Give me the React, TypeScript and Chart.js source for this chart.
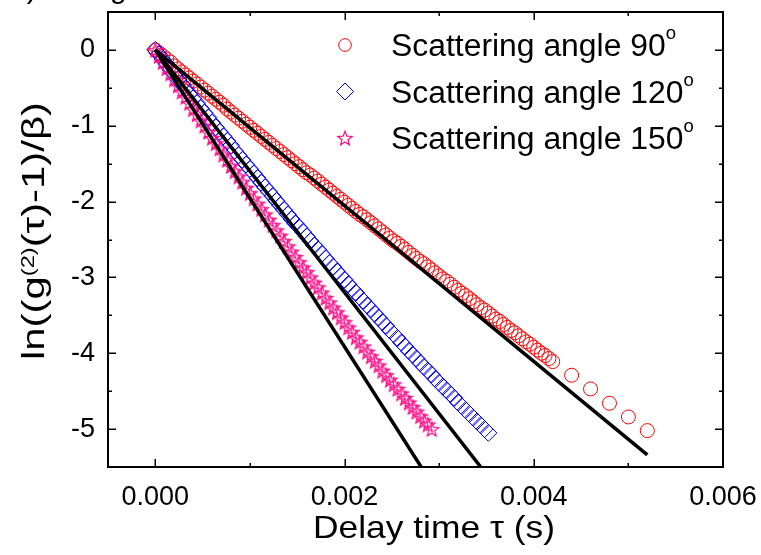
import React, { useEffect, useRef } from 'react';
import { Chart, registerables } from 'chart.js';

Chart.register(...registerables);

// Delay times (s) shared by the three correlation curves
const TAU = [
  0, 0.00004, 0.00008, 0.00012, 0.00016, 0.0002, 0.00024, 0.00028, 0.00032, 0.00036,
  0.0004, 0.00044, 0.00048, 0.00052, 0.00056, 0.0006, 0.00064, 0.00068, 0.00072, 0.00076,
  0.0008, 0.00084, 0.00088, 0.00092, 0.00096, 0.001, 0.00104, 0.00108, 0.00112, 0.00116,
  0.0012, 0.00124, 0.00128, 0.00132, 0.00136, 0.0014, 0.00144, 0.00148, 0.00152, 0.00156,
  0.0016, 0.00164, 0.00168, 0.00172, 0.00176, 0.0018, 0.00184, 0.00188, 0.00192, 0.00196,
  0.002, 0.00204, 0.00208, 0.00212, 0.00216, 0.0022, 0.00224, 0.00228, 0.00232, 0.00236,
  0.0024, 0.00244, 0.00248, 0.00252, 0.00256, 0.0026, 0.00264, 0.00268, 0.00272, 0.00276,
  0.0028, 0.00284, 0.00288, 0.00292, 0.00296, 0.003, 0.00304, 0.00308, 0.00312, 0.00316,
  0.0032, 0.00324, 0.00328, 0.00332, 0.00336, 0.0034, 0.00344, 0.00348, 0.00352, 0.00356,
  0.0036, 0.00364, 0.00368, 0.00372, 0.00376, 0.0038, 0.00384, 0.00388, 0.00392, 0.00396,
  0.004, 0.00404, 0.00408, 0.00412, 0.00416, 0.0042,
];

const LN_90 = [
  0, -0.04, -0.08, -0.12, -0.16, -0.21, -0.25, -0.29, -0.33, -0.37,
  -0.41, -0.45, -0.49, -0.53, -0.57, -0.61, -0.65, -0.69, -0.73, -0.78,
  -0.82, -0.86, -0.9, -0.94, -0.98, -1.02, -1.06, -1.1, -1.14, -1.18,
  -1.22, -1.26, -1.3, -1.34, -1.38, -1.42, -1.46, -1.5, -1.54, -1.58,
  -1.62, -1.65, -1.69, -1.73, -1.77, -1.81, -1.85, -1.89, -1.93, -1.97,
  -2.01, -2.05, -2.09, -2.13, -2.17, -2.2, -2.24, -2.28, -2.32, -2.36,
  -2.4, -2.44, -2.48, -2.52, -2.55, -2.59, -2.63, -2.67, -2.71, -2.75,
  -2.79, -2.82, -2.86, -2.9, -2.94, -2.98, -3.02, -3.05, -3.09, -3.13,
  -3.17, -3.21, -3.24, -3.28, -3.32, -3.36, -3.4, -3.43, -3.47, -3.51,
  -3.55, -3.58, -3.62, -3.66, -3.7, -3.73, -3.77, -3.81, -3.85, -3.88,
  -3.92, -3.96, -4.0, -4.03, -4.07, -4.11,
];
const TAU_90_TAIL = [0.0044, 0.0046, 0.0048, 0.005, 0.0052];
const LN_90_TAIL = [-4.29, -4.47, -4.66, -4.84, -5.02];

const LN_120 = [
  0, -0.06, -0.13, -0.19, -0.26, -0.32, -0.39, -0.45, -0.51, -0.58,
  -0.64, -0.7, -0.77, -0.83, -0.89, -0.96, -1.02, -1.08, -1.14, -1.2,
  -1.26, -1.33, -1.39, -1.45, -1.51, -1.57, -1.63, -1.69, -1.75, -1.81,
  -1.87, -1.93, -1.99, -2.05, -2.11, -2.17, -2.23, -2.29, -2.34, -2.4,
  -2.46, -2.52, -2.58, -2.63, -2.69, -2.75, -2.81, -2.86, -2.92, -2.98,
  -3.03, -3.09, -3.15, -3.2, -3.26, -3.31, -3.37, -3.42, -3.48, -3.53,
  -3.59, -3.64, -3.7, -3.75, -3.8, -3.86, -3.91, -3.97, -4.02, -4.07,
  -4.13, -4.18, -4.23, -4.28, -4.34, -4.39, -4.44, -4.49, -4.54, -4.59,
  -4.65, -4.7, -4.75, -4.8, -4.85, -4.9, -4.95, -5.0, -5.05,
];

const LN_150 = [
  0, -0.08, -0.16, -0.24, -0.31, -0.39, -0.47, -0.55, -0.62, -0.7,
  -0.78, -0.85, -0.93, -1.0, -1.08, -1.16, -1.23, -1.3, -1.38, -1.45,
  -1.53, -1.6, -1.67, -1.74, -1.82, -1.89, -1.96, -2.03, -2.1, -2.17,
  -2.24, -2.31, -2.38, -2.45, -2.52, -2.59, -2.66, -2.73, -2.8, -2.87,
  -2.93, -3.0, -3.07, -3.13, -3.2, -3.27, -3.33, -3.4, -3.46, -3.53,
  -3.59, -3.66, -3.72, -3.79, -3.85, -3.91, -3.98, -4.04, -4.1, -4.16,
  -4.23, -4.29, -4.35, -4.41, -4.47, -4.53, -4.59, -4.65, -4.71, -4.77,
  -4.83, -4.89, -4.94, -5.0,
];

// Linear fits: start and end points (90°, 120°, 150°)
const FIT_START_TAU = [0, 0, 0];
const FIT_START_LN = [0, 0, 0];
const FIT_END_TAU = [0.0052, 0.00344, 0.00281];
const FIT_END_LN = [-5.34, -5.5, -5.5];

const X_MIN = -0.0005;
const X_MAX = 0.006;
const Y_MIN = -5.5;
const Y_MAX = 0.5;
const X_MAJOR = [0, 0.002, 0.004, 0.006];
const X_MINOR = [0.001, 0.003, 0.005];
const Y_MAJOR = [0, -1, -2, -3, -4, -5];
const Y_MINOR = [-0.5, -1.5, -2.5, -3.5, -4.5];

const LEGEND_LABELS = ['Scattering angle 90', 'Scattering angle 120', 'Scattering angle 150'];
const LEGEND_SUP = 'o';
const X_TITLE = 'Delay time \u03C4 (s)';
const Y_TITLE_PARTS = ['ln((g', '(2)', '(\u03C4)-1)/\u03B2)'];
const CAPTION = 'b) Fitting';

const RED = '#FF0000';
const BLUE = '#0000FF';
const PINK = '#FF0A84';
const FONT = '"Liberation Sans", Arial, Helvetica, sans-serif';

type Seg = { t: string; size: number; dy: number };

function segsWidth(ctx: CanvasRenderingContext2D, segs: Seg[]) {
  let w = 0;
  for (const s of segs) {
    ctx.font = `${s.size}px ${FONT}`;
    w += ctx.measureText(s.t).width;
  }
  return w;
}

function drawSegs(ctx: CanvasRenderingContext2D, segs: Seg[], x: number, y: number, align: 'left' | 'center', sx: number) {
  const w = segsWidth(ctx, segs) * sx;
  const start = align === 'center' ? x - w / 2 : x;
  ctx.save();
  ctx.translate(start, y);
  ctx.scale(sx, 1);
  ctx.textAlign = 'left';
  ctx.textBaseline = 'alphabetic';
  ctx.fillStyle = '#000';
  let cx = 0;
  for (const s of segs) {
    ctx.font = `${s.size}px ${FONT}`;
    ctx.fillText(s.t, cx, s.dy);
    cx += ctx.measureText(s.t).width;
  }
  ctx.restore();
}

function makeStar(color: string, R: number, lw: number) {
  const size = Math.ceil(2 * R + 2 * lw + 2);
  const c = document.createElement('canvas');
  c.width = size;
  c.height = size;
  const g = c.getContext('2d') as CanvasRenderingContext2D;
  const cx = size / 2;
  const cy = size / 2 + R * 0.1;
  g.beginPath();
  for (let i = 0; i < 10; i++) {
    const r = i % 2 === 0 ? R : R * 0.42;
    const ang = -Math.PI / 2 + (i * Math.PI) / 5;
    const px = cx + r * Math.cos(ang);
    const py = cy + r * Math.sin(ang);
    if (i === 0) g.moveTo(px, py);
    else g.lineTo(px, py);
  }
  g.closePath();
  g.strokeStyle = color;
  g.lineWidth = lw;
  g.stroke();
  return c;
}

const zeroPad = (s: any) => {
  s.paddingLeft = 0;
  s.paddingRight = 0;
  s.paddingTop = 0;
  s.paddingBottom = 0;
};

export default function App() {
  const ref = useRef<HTMLCanvasElement | null>(null);

  useEffect(() => {
    if (!ref.current) return;
    const star = makeStar(PINK, 7.5, 1.2);

    const pts = (xs: number[], ys: number[]) => ys.map((y, i) => ({ x: xs[i], y }));
    const fit = (i: number) => [
      { x: FIT_START_TAU[i], y: FIT_START_LN[i] },
      { x: FIT_END_TAU[i], y: FIT_END_LN[i] },
    ];

    const overlay = {
      id: 'overlay',
      afterDraw(chart: any) {
        const ctx: CanvasRenderingContext2D = chart.ctx;
        const a = chart.chartArea;
        const xs = chart.scales.x;
        const ys = chart.scales.y;
        ctx.save();
        // frame
        ctx.strokeStyle = '#000';
        ctx.lineWidth = 2;
        ctx.strokeRect(a.left, a.top, a.right - a.left, a.bottom - a.top);
        // ticks (inward, all four sides)
        ctx.lineWidth = 1.5;
        ctx.beginPath();
        const xt = (vals: number[], len: number) => {
          for (const v of vals) {
            const p = Math.round(xs.getPixelForValue(v)) + 0.25;
            ctx.moveTo(p, a.bottom);
            ctx.lineTo(p, a.bottom - len);
            ctx.moveTo(p, a.top);
            ctx.lineTo(p, a.top + len);
          }
        };
        const yt = (vals: number[], len: number) => {
          for (const v of vals) {
            const p = Math.round(ys.getPixelForValue(v)) + 0.25;
            ctx.moveTo(a.left, p);
            ctx.lineTo(a.left + len, p);
            ctx.moveTo(a.right, p);
            ctx.lineTo(a.right - len, p);
          }
        };
        xt(X_MAJOR, 8);
        xt(X_MINOR, 4);
        yt(Y_MAJOR, 8);
        yt(Y_MINOR, 4);
        ctx.stroke();

        // legend
        const rows = [45, 91.5, 138];
        const mx = 345;
        ctx.lineWidth = 1;
        ctx.strokeStyle = RED;
        ctx.beginPath();
        ctx.arc(mx, rows[0], 6.3, 0, Math.PI * 2);
        ctx.stroke();
        ctx.strokeStyle = BLUE;
        ctx.beginPath();
        ctx.moveTo(mx - 8.5, rows[1]);
        ctx.lineTo(mx, rows[1] - 8.5);
        ctx.lineTo(mx + 8.5, rows[1]);
        ctx.lineTo(mx, rows[1] + 8.5);
        ctx.closePath();
        ctx.stroke();
        ctx.drawImage(star, mx - star.width / 2, rows[2] - star.height / 2);

        const legSegs = (t: string): Seg[] => [
          { t, size: 31, dy: 0 },
          { t: LEGEND_SUP, size: 18, dy: -17 },
        ];
        const sxLeg = 285 / segsWidth(ctx, legSegs(LEGEND_LABELS[0]));
        LEGEND_LABELS.forEach((t, i) => {
          drawSegs(ctx, legSegs(t), 391, rows[i] + 11, 'left', sxLeg);
        });

        // x title
        const xSegs: Seg[] = [{ t: X_TITLE, size: 32, dy: 0 }];
        drawSegs(ctx, xSegs, 434, 538, 'center', 242 / segsWidth(ctx, xSegs));

        // y title
        const ySegs: Seg[] = [
          { t: Y_TITLE_PARTS[0], size: 32, dy: 0 },
          { t: Y_TITLE_PARTS[1], size: 18, dy: -10 },
          { t: Y_TITLE_PARTS[2], size: 32, dy: 0 },
        ];
        ctx.save();
        ctx.translate(44, 231);
        ctx.rotate(-Math.PI / 2);
        drawSegs(ctx, ySegs, 0, 0, 'center', 258 / segsWidth(ctx, ySegs));
        ctx.restore();

        // cut-off caption at the very top
        ctx.fillStyle = '#000';
        ctx.font = `30px ${FONT}`;
        ctx.textAlign = 'left';
        ctx.textBaseline = 'alphabetic';
        ctx.fillText(CAPTION, 10, -2);
        ctx.restore();
      },
    };

    const chart = new Chart(ref.current, {
      type: 'scatter',
      data: {
        datasets: [
          { label: 'fit 90', data: fit(0), showLine: true, borderColor: '#000', borderWidth: 3.5, pointRadius: 0 },
          { label: 'fit 120', data: fit(1), showLine: true, borderColor: '#000', borderWidth: 3.5, pointRadius: 0 },
          { label: 'fit 150', data: fit(2), showLine: true, borderColor: '#000', borderWidth: 3.5, pointRadius: 0 },
          {
            label: LEGEND_LABELS[2],
            data: pts(TAU, LN_150),
            pointStyle: star as any,
            pointRadius: 7.5,
            borderColor: PINK,
            backgroundColor: 'transparent',
          },
          {
            label: LEGEND_LABELS[1],
            data: pts(TAU, LN_120),
            pointStyle: 'rectRot',
            pointRadius: 8.5,
            borderWidth: 1,
            borderColor: BLUE,
            backgroundColor: 'transparent',
          },
          {
            label: LEGEND_LABELS[0],
            data: [...pts(TAU, LN_90), ...pts(TAU_90_TAIL, LN_90_TAIL)],
            pointStyle: 'circle',
            pointRadius: 7,
            borderWidth: 1,
            borderColor: RED,
            backgroundColor: 'transparent',
          },
        ],
      } as any,
      options: {
        responsive: false,
        animation: false,
        events: [],
        layout: { padding: { left: 0, right: 38, top: 12, bottom: 0 } },
        plugins: { legend: { display: false }, tooltip: { enabled: false } },
        scales: {
          x: {
            type: 'linear',
            min: X_MIN,
            max: X_MAX,
            afterBuildTicks: (s: any) => {
              s.ticks = X_MAJOR.map((v) => ({ value: v }));
            },
            afterFit: (s: any) => {
              s.height = 88;
              zeroPad(s);
            },
            grid: { display: false, drawTicks: false },
            border: { display: false },
            ticks: {
              padding: 14,
              color: '#000',
              font: { family: FONT, size: 27 },
              maxRotation: 0,
              autoSkip: false,
              callback: (v: any) => Number(v).toFixed(3),
            },
          },
          y: {
            type: 'linear',
            min: Y_MIN,
            max: Y_MAX,
            afterBuildTicks: (s: any) => {
              s.ticks = Y_MAJOR.map((v) => ({ value: v }));
            },
            afterFit: (s: any) => {
              s.width = 108;
              zeroPad(s);
            },
            grid: { display: false, drawTicks: false },
            border: { display: false },
            ticks: {
              padding: 13,
              color: '#000',
              font: { family: FONT, size: 27 },
              autoSkip: false,
              callback: (v: any) => String(Math.round(Number(v))),
            },
          },
        },
      } as any,
      plugins: [overlay],
    });
    return () => chart.destroy();
  }, []);

  return (
    <div style={{ position: 'fixed', left: 0, top: 0, width: 761, height: 555, background: '#fff' }}>
      <canvas ref={ref} width={761} height={555} style={{ display: 'block' }} />
    </div>
  );
}
